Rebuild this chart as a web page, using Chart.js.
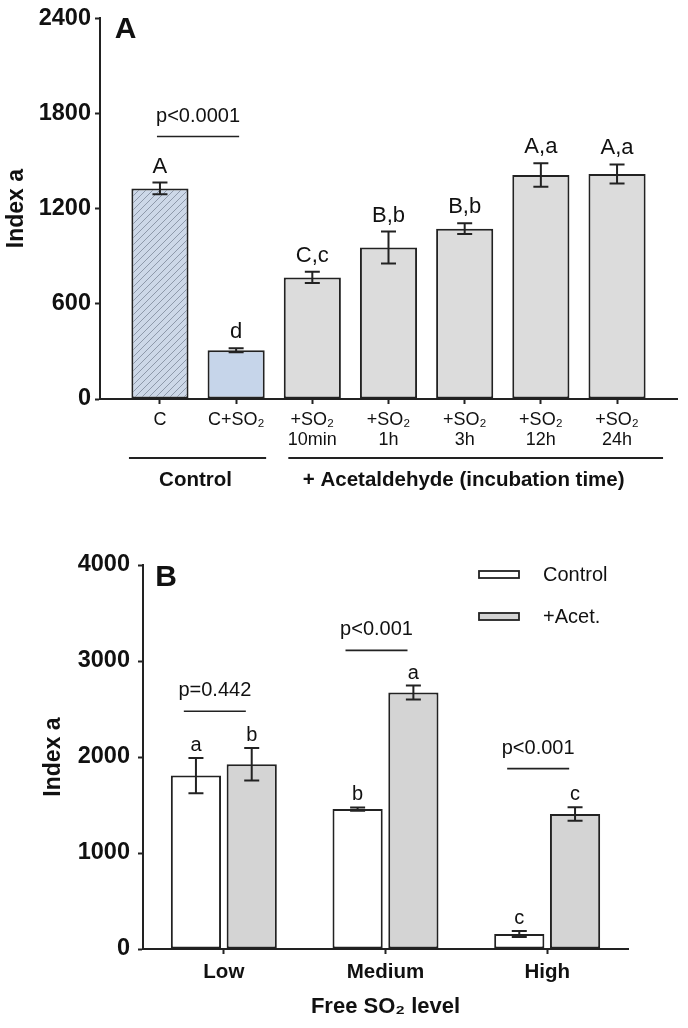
<!DOCTYPE html>
<html>
<head>
<meta charset="utf-8">
<script src="https://cdn.jsdelivr.net/npm/chart.js@4"></script>
<style>
  body { margin: 0; background: #fff; }
  canvas { position: absolute; left: 0; }
</style>
</head>
<body>
<canvas id="chartA" width="688" height="510" style="top:0"></canvas>
<canvas id="chartB" width="688" height="508" style="top:520px"></canvas>
<script>
// ---- panel A: incubation time
let labelsA = [["C"], ["C+SO₂"], ["+SO₂", "10min"], ["+SO₂", "1h"], ["+SO₂", "3h"], ["+SO₂", "12h"], ["+SO₂", "24h"]];
let valuesA = [1327, 307, 766, 954, 1073, 1411, 1418];
let errorsA = [37, 12, 35, 101, 34, 74, 60];
let lettersA = ["A", "d", "C,c", "B,b", "B,b", "A,a", "A,a"];
let ticksA = [0, 600, 1200, 1800, 2400];
let groupsA = [
  { label: "Control", from: 0, to: 1 },
  { label: "+ Acetaldehyde (incubation time)", from: 2, to: 6 }
];

// ---- panel B: free SO2 level
let levelsB = ["Low", "Medium", "High"];
let controlB = [1806, 1458, 156];
let controlErrB = [183, 17, 31];
let acetB = [1924, 2671, 1406];
let acetErrB = [170, 73, 70];
let controlLettersB = ["a", "b", "c"];
let acetLettersB = ["b", "a", "c"];
let pTextB = ["p=0.442", "p<0.001", "p<0.001"];
let pLineB = [2476, 3111, 1879];
let ticksB = [0, 1000, 2000, 3000, 4000];

Chart.defaults.font.family = "'Liberation Sans', Arial, sans-serif";
Chart.defaults.color = "#111";

const INK = "#222";

function makeHatch() {
  const c = document.createElement("canvas");
  c.width = 7; c.height = 7;
  const g = c.getContext("2d");
  g.fillStyle = "#cdd8e8";
  g.fillRect(0, 0, 7, 7);
  g.strokeStyle = "#8e99aa";
  g.lineWidth = 1;
  g.beginPath();
  g.moveTo(-1, 8); g.lineTo(8, -1);
  g.moveTo(-1, 1); g.lineTo(1, -1);
  g.moveTo(6, 8); g.lineTo(8, 6);
  g.stroke();
  return g.createPattern(c, "repeat");
}

// error bars + letters above them
const errorBars = {
  id: "errorBars",
  afterDatasetsDraw(chart, args, opts) {
    const ctx = chart.ctx;
    const y = chart.scales.y;
    chart.data.datasets.forEach((ds, di) => {
      const meta = chart.getDatasetMeta(di);
      meta.data.forEach((bar, i) => {
        const v = meta.controller.getParsed(i).y;
        const e = ds.errors[i];
        const top = y.getPixelForValue(v + e);
        const bot = y.getPixelForValue(v - e);
        ctx.save();
        ctx.strokeStyle = INK;
        ctx.lineWidth = 2;
        ctx.beginPath();
        ctx.moveTo(bar.x, top); ctx.lineTo(bar.x, bot);
        ctx.moveTo(bar.x - opts.cap, top); ctx.lineTo(bar.x + opts.cap, top);
        ctx.moveTo(bar.x - opts.cap, bot); ctx.lineTo(bar.x + opts.cap, bot);
        ctx.stroke();
        ctx.fillStyle = "#111";
        ctx.font = opts.font;
        ctx.textAlign = "center";
        ctx.textBaseline = "alphabetic";
        ctx.fillText(ds.letters[i], bar.x, top - opts.gap);
        ctx.restore();
      });
    });
  }
};

// p-value brackets
const brackets = {
  id: "brackets",
  afterDatasetsDraw(chart, args, opts) {
    const ctx = chart.ctx;
    const x = chart.scales.x, y = chart.scales.y;
    opts.items.forEach(it => {
      const x0 = opts.fromBars ? chart.getDatasetMeta(0).data[it.from].x + opts.left : x.getPixelForValue(it.at) + opts.left;
      const x1 = opts.fromBars ? chart.getDatasetMeta(0).data[it.to].x + opts.right : x.getPixelForValue(it.at) + opts.right;
      const py = y.getPixelForValue(it.y);
      ctx.save();
      ctx.strokeStyle = INK;
      ctx.lineWidth = 1.6;
      ctx.beginPath();
      ctx.moveTo(x0, py); ctx.lineTo(x1, py);
      ctx.stroke();
      ctx.fillStyle = "#111";
      ctx.font = opts.font;
      ctx.textAlign = "center";
      ctx.textBaseline = "alphabetic";
      ctx.fillText(it.text, (x0 + x1) / 2, py - opts.gap);
      ctx.restore();
    });
  }
};

// group lines under panel A axis
const groupLines = {
  id: "groupLines",
  afterDraw(chart, args, opts) {
    const ctx = chart.ctx;
    const x = chart.scales.x;
    const base = chart.chartArea.bottom;
    groupsA.forEach((g, k) => {
      const x0 = x.getPixelForValue(g.from) - opts.pad[k][0];
      const x1 = x.getPixelForValue(g.to) + opts.pad[k][1];
      ctx.save();
      ctx.strokeStyle = INK;
      ctx.lineWidth = 2.2;
      ctx.beginPath();
      ctx.moveTo(x0, base + opts.lineY); ctx.lineTo(x1, base + opts.lineY);
      ctx.stroke();
      ctx.fillStyle = "#111";
      ctx.font = "bold 20.5px 'Liberation Sans', Arial, sans-serif";
      ctx.textAlign = "center";
      ctx.textBaseline = "middle";
      ctx.fillText(g.label, (x0 + x1) / 2 + opts.textShift[k], base + opts.textY);
      ctx.restore();
    });
  }
};

// panel letter
const panelLetter = {
  id: "panelLetter",
  afterDraw(chart, args, opts) {
    const ctx = chart.ctx;
    ctx.save();
    ctx.fillStyle = "#111";
    ctx.font = "bold 30px 'Liberation Sans', Arial, sans-serif";
    ctx.textAlign = "center";
    ctx.textBaseline = "middle";
    ctx.fillText(opts.text, opts.x, opts.y);
    ctx.restore();
  }
};

// stacked legend in panel B
const boxLegend = {
  id: "boxLegend",
  afterDraw(chart, args, opts) {
    const ctx = chart.ctx;
    chart.data.datasets.forEach((ds, i) => {
      const yy = opts.y + i * opts.step;
      ctx.save();
      ctx.fillStyle = ds.backgroundColor;
      ctx.strokeStyle = INK;
      ctx.lineWidth = 1.8;
      ctx.fillRect(opts.x, yy - 3.5, 40, 7);
      ctx.strokeRect(opts.x, yy - 3.5, 40, 7);
      ctx.fillStyle = "#111";
      ctx.font = "20px 'Liberation Sans', Arial, sans-serif";
      ctx.textAlign = "left";
      ctx.textBaseline = "middle";
      ctx.fillText(ds.label, opts.x + 64, yy + 1);
      ctx.restore();
    });
  }
};

const axisGrid = { drawOnChartArea: false, drawTicks: true, tickLength: 5, tickWidth: 2, tickColor: INK, offset: false };
const axisBorder = { display: true, color: INK, width: 2 };

const hatch = makeHatch();

new Chart(document.getElementById("chartA"), {
  type: "bar",
  data: {
    datasets: [{
      label: "Index a",
      data: valuesA.map((v, i) => ({ x: i, y: v })),
      errors: errorsA,
      letters: lettersA,
      backgroundColor: valuesA.map((v, i) => i === 0 ? hatch : (i === 1 ? "#c6d5ea" : "#dcdcdc")),
      borderColor: INK,
      borderWidth: 2,
      borderSkipped: false,
      barPercentage: 0.75,
      categoryPercentage: 1
    }]
  },
  options: {
    responsive: false,
    animation: false,
    layout: { padding: { top: 16, right: 11, bottom: 0, left: 0 } },
    plugins: {
      legend: { display: false },
      tooltip: { enabled: false },
      errorBars: { cap: 7.5, gap: 10, font: "22px 'Liberation Sans', Arial, sans-serif" },
      brackets: { fromBars: true, left: -3, right: 3, gap: 14, font: "20px 'Liberation Sans', Arial, sans-serif",
        items: [{ from: 0, to: 1, y: 1654, text: "p<0.0001" }] },
      groupLines: { lineY: 59, textY: 81, pad: [[31, 30], [24, 46]], textShift: [-2, -12] },
      panelLetter: { text: "A", x: 125.5, y: 30 }
    },
    scales: {
      x: {
        type: "linear",
        min: -0.787, max: 6.787,
        offset: false,
        afterBuildTicks: s => { s.ticks = labelsA.map((l, i) => ({ value: i })); },
        afterFit: s => { s.height = 111; },
        grid: axisGrid,
        border: axisBorder,
        ticks: { callback: v => labelsA[v], font: { size: 18, lineHeight: 1.11 }, color: "#111", padding: 6, maxRotation: 0, autoSkip: false }
      },
      y: {
        min: 0, max: 2400,
        afterBuildTicks: s => { s.ticks = ticksA.map(v => ({ value: v })); },
        afterFit: s => { s.width = 100; },
        grid: axisGrid,
        border: axisBorder,
        ticks: { callback: v => String(v), font: { size: 23.5, weight: "bold" }, color: "#111", padding: 4 },
        title: { display: true, text: "Index a", font: { size: 23, weight: "bold" }, color: "#111", padding: { top: 3, bottom: 0 } }
      }
    }
  },
  plugins: [errorBars, brackets, groupLines, panelLetter]
});

new Chart(document.getElementById("chartB"), {
  type: "bar",
  data: {
    labels: levelsB,
    datasets: [
      { label: "Control", data: controlB, errors: controlErrB, letters: controlLettersB,
        backgroundColor: "#ffffff", borderColor: INK, borderWidth: 2, borderSkipped: false,
        barPercentage: 0.9, categoryPercentage: 0.69 },
      { label: "+Acet.", data: acetB, errors: acetErrB, letters: acetLettersB,
        backgroundColor: "#d4d4d4", borderColor: INK, borderWidth: 2, borderSkipped: false,
        barPercentage: 0.9, categoryPercentage: 0.69 }
    ]
  },
  options: {
    responsive: false,
    animation: false,
    layout: { padding: { top: 45, right: 60, bottom: 0, left: 0 } },
    plugins: {
      legend: { display: false },
      tooltip: { enabled: false },
      errorBars: { cap: 7.5, gap: 7, font: "20px 'Liberation Sans', Arial, sans-serif" },
      brackets: { fromBars: false, left: -40, right: 22, gap: 15, font: "20px 'Liberation Sans', Arial, sans-serif",
        items: levelsB.map((l, i) => ({ at: i, y: pLineB[i], text: pTextB[i] })) },
      boxLegend: { x: 479, y: 54.5, step: 42 },
      panelLetter: { text: "B", x: 166, y: 58 }
    },
    scales: {
      x: {
        offset: true,
        afterFit: s => { s.height = 79; },
        grid: axisGrid,
        border: axisBorder,
        ticks: { font: { size: 20.5, weight: "bold" }, color: "#111", padding: 6 },
        title: { display: true, text: "Free SO₂ level", font: { size: 22, weight: "bold" }, color: "#111", padding: { top: 0, bottom: 8 } }
      },
      y: {
        min: 0, max: 4000,
        afterBuildTicks: s => { s.ticks = ticksB.map(v => ({ value: v })); },
        afterFit: s => { s.width = 143; },
        grid: axisGrid,
        border: axisBorder,
        ticks: { callback: v => String(v), font: { size: 23.5, weight: "bold" }, color: "#111", padding: 8 },
        title: { display: true, text: "Index a", font: { size: 23, weight: "bold" }, color: "#111", padding: { top: 40, bottom: 0 } }
      }
    }
  },
  plugins: [errorBars, brackets, boxLegend, panelLetter]
});
</script>
</body>
</html>
